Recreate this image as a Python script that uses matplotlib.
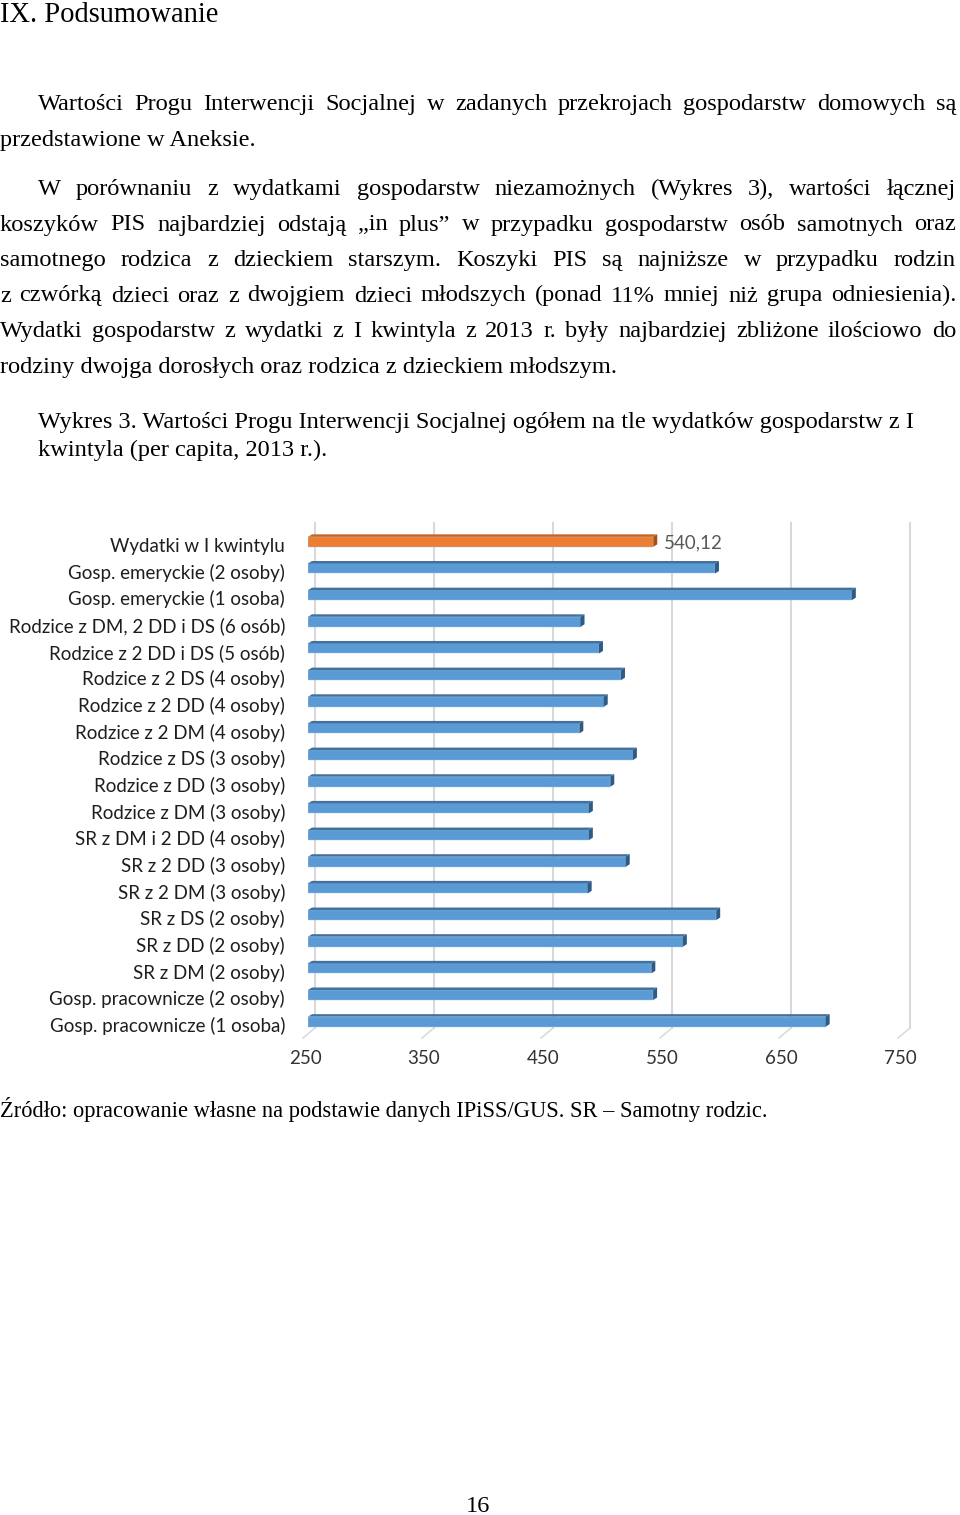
import numpy as np
import matplotlib
matplotlib.use('Agg')
import matplotlib.pyplot as plt
import matplotlib.transforms as mtransforms
from matplotlib.patches import Polygon

# ---------------- data ----------------
categories = ['Wydatki w I kwintylu', 'Gosp. emeryckie (2 osoby)', 'Gosp. emeryckie (1 osoba)',
              'Rodzice z DM, 2 DD i DS (6 osób)', 'Rodzice z 2 DD i DS (5 osób)', 'Rodzice z 2 DS (4 osoby)',
              'Rodzice z 2 DD (4 osoby)', 'Rodzice z 2 DM (4 osoby)', 'Rodzice z DS (3 osoby)',
              'Rodzice z DD (3 osoby)', 'Rodzice z DM (3 osoby)', 'SR z DM i 2 DD (4 osoby)',
              'SR z 2 DD (3 osoby)', 'SR z 2 DM (3 osoby)', 'SR z DS (2 osoby)', 'SR z DD (2 osoby)',
              'SR z DM (2 osoby)', 'Gosp. pracownicze (2 osoby)', 'Gosp. pracownicze (1 osoba)']
values = [540.12, 592, 707, 479, 494.5, 513, 498.5, 478, 523, 504, 486, 486, 517, 485, 593, 565,
          538.5, 540, 685]
highlight = 'Wydatki w I kwintylu'
value_label = '540,12'
xticks = [250, 350, 450, 550, 650, 750]

heading = 'IX. Podsumowanie'
para1 = ['Wartości Progu Interwencji Socjalnej w zadanych przekrojach gospodarstw domowych są',
         'przedstawione w Aneksie.']
para2 = ['W porównaniu z wydatkami gospodarstw niezamożnych (Wykres 3), wartości łącznej',
         'koszyków PIS najbardziej odstają \u201ein plus\u201d w przypadku gospodarstw osób samotnych oraz',
         'samotnego rodzica z dzieckiem starszym. Koszyki PIS są najniższe w przypadku rodzin',
         'z czwórką dzieci oraz z dwojgiem dzieci młodszych (ponad 11% mniej niż grupa odniesienia).',
         'Wydatki gospodarstw z wydatki z I kwintyla z 2013 r. były najbardziej zbliżone ilościowo do',
         'rodziny dwojga dorosłych oraz rodzica z dzieckiem młodszym.']
caption = ['Wykres 3. Wartości Progu Interwencji Socjalnej ogółem na tle wydatków gospodarstw z I',
           'kwintyla (per capita, 2013 r.).']
source = 'Źródło: opracowanie własne na podstawie danych IPiSS/GUS. SR \u2013 Samotny rodzic.'
page_no = '16'

W, H = 960, 1515
SERIF = 'Liberation Serif'
SANS = 'Lato'

fig = plt.figure(figsize=(W / 100, H / 100), dpi=100)
renderer = fig.canvas.get_renderer()


def text_w(s, size, family):
    t = fig.text(0, 0, s, fontsize=size, family=family)
    w = t.get_window_extent(renderer).width
    t.remove()
    return w


def put(x, y, s, size, family=SERIF, **kw):
    return fig.text(x / W, 1 - y / H, s, fontsize=size, family=family, va='baseline', **kw)


def justify(line, x0, x1, y, size):
    # spread the words so the line runs from x0 to x1 (pixels)
    words = line.split(' ')
    ws = [text_w(w, size, SERIF) for w in words]
    gap = (x1 - x0 - sum(ws)) / (len(words) - 1)
    x = x0
    for w, wd in zip(words, ws):
        put(x, y, w, size)
        x += wd + gap


# calibrate font sizes on lines of known width
body = 12 * 875 / text_w(caption[0], 12, SERIF)
src = 12 * 768 / text_w(source, 12, SERIF)
head = 12 * 219 / text_w(heading, 12, SERIF)
lab = 10 * 277 / text_w(categories[3], 10, SANS)

put(0, 22, heading, head)
justify(para1[0], 38, 956, 110, body)
put(0, 146, para1[1], body)
for i, line in enumerate(para2):
    y = 195 + i * 35.5
    if i == len(para2) - 1:
        put(0, y, line, body)
    else:
        justify(line, 38 if i == 0 else 0, 956, y, body)
put(38, 428, caption[0], body)
put(38, 456, caption[1], body)
put(0, 1117, source, src)
put(478, 1512, page_no, body, ha='center')

# ---------------- chart ----------------
ax_l, ax_r, ax_t, ax_b = 308, 903, 523, 1038
ax = fig.add_axes([ax_l / W, 1 - ax_b / H, (ax_r - ax_l) / W, (ax_b - ax_t) / H])
ymin, ymax = -0.66, len(categories) - 1 + 0.66
ax.set_xlim(250, 750)
ax.set_ylim(ymax, ymin)
for s in ax.spines.values():
    s.set_visible(False)

ux = 500 / (ax_r - ax_l)              # data units per pixel
uy = (ymax - ymin) / (ax_b - ax_t)

# grid on the back wall, with slanted floor lines
grid_c = '#d9d9d9'
y_floor = len(categories) - 1 + 7.5 * uy
for t in xticks:
    ax.plot([t + 7 * ux, t + 7 * ux], [ymin, y_floor], color=grid_c, lw=1.5, zorder=0, clip_on=False)
    ax.plot([t + 7 * ux, t - 5 * ux], [y_floor, ymax], color=grid_c, lw=1.1, zorder=0, clip_on=False)

ypos = np.arange(len(categories))
front = ['#ed7d31' if c == highlight else '#5b9bd5' for c in categories]
top = ['#c5651f' if c == highlight else '#41719c' for c in categories]
side = ['#a9500f' if c == highlight else '#2e5a84' for c in categories]
h = 10 * uy
dx, dy = 4 * ux, 2.5 * uy
ax.barh(ypos + 0.5 * dy, np.array(values) - 250, left=250, height=h, color=front,
        edgecolor='#9dc3e6', linewidth=0.3, zorder=3)
for y, v, ct, cs in zip(ypos + 0.5 * dy, values, top, side):
    y0 = y - h / 2
    ax.add_patch(Polygon([(250, y0), (v, y0), (v + dx, y0 - dy), (250 + dx, y0 - dy)],
                         closed=True, color=ct, lw=0, zorder=3))
    ax.add_patch(Polygon([(v, y0), (v, y0 + h), (v + dx, y0 + h - dy), (v + dx, y0 - dy)],
                         closed=True, color=cs, lw=0, zorder=3))

hi = categories.index(highlight)
ax.annotate(value_label, (values[hi], hi), xytext=(7.5, -1.5), textcoords='offset points',
            ha='left', va='center', fontsize=lab, family=SANS, color='#595959')

ax.set_yticks(ypos)
ax.set_yticklabels(categories, fontsize=lab, family=SANS, color='#1e1e1e')
ax.set_xticks(xticks)
ax.set_xticklabels([str(t) for t in xticks], fontsize=lab, family=SANS, color='#333333')
ax.tick_params(axis='y', length=0, pad=16.5)
ax.tick_params(axis='x', length=0, pad=9)
ydown = mtransforms.ScaledTranslation(0, -4 / 100, fig.dpi_scale_trans)
for lb in ax.get_yticklabels():
    lb.set_transform(lb.get_transform() + ydown)
xleft = mtransforms.ScaledTranslation(-3 / 100, 0, fig.dpi_scale_trans)
for lb in ax.get_xticklabels():
    lb.set_transform(lb.get_transform() + xleft)

fig.savefig('out.png', dpi=100)
